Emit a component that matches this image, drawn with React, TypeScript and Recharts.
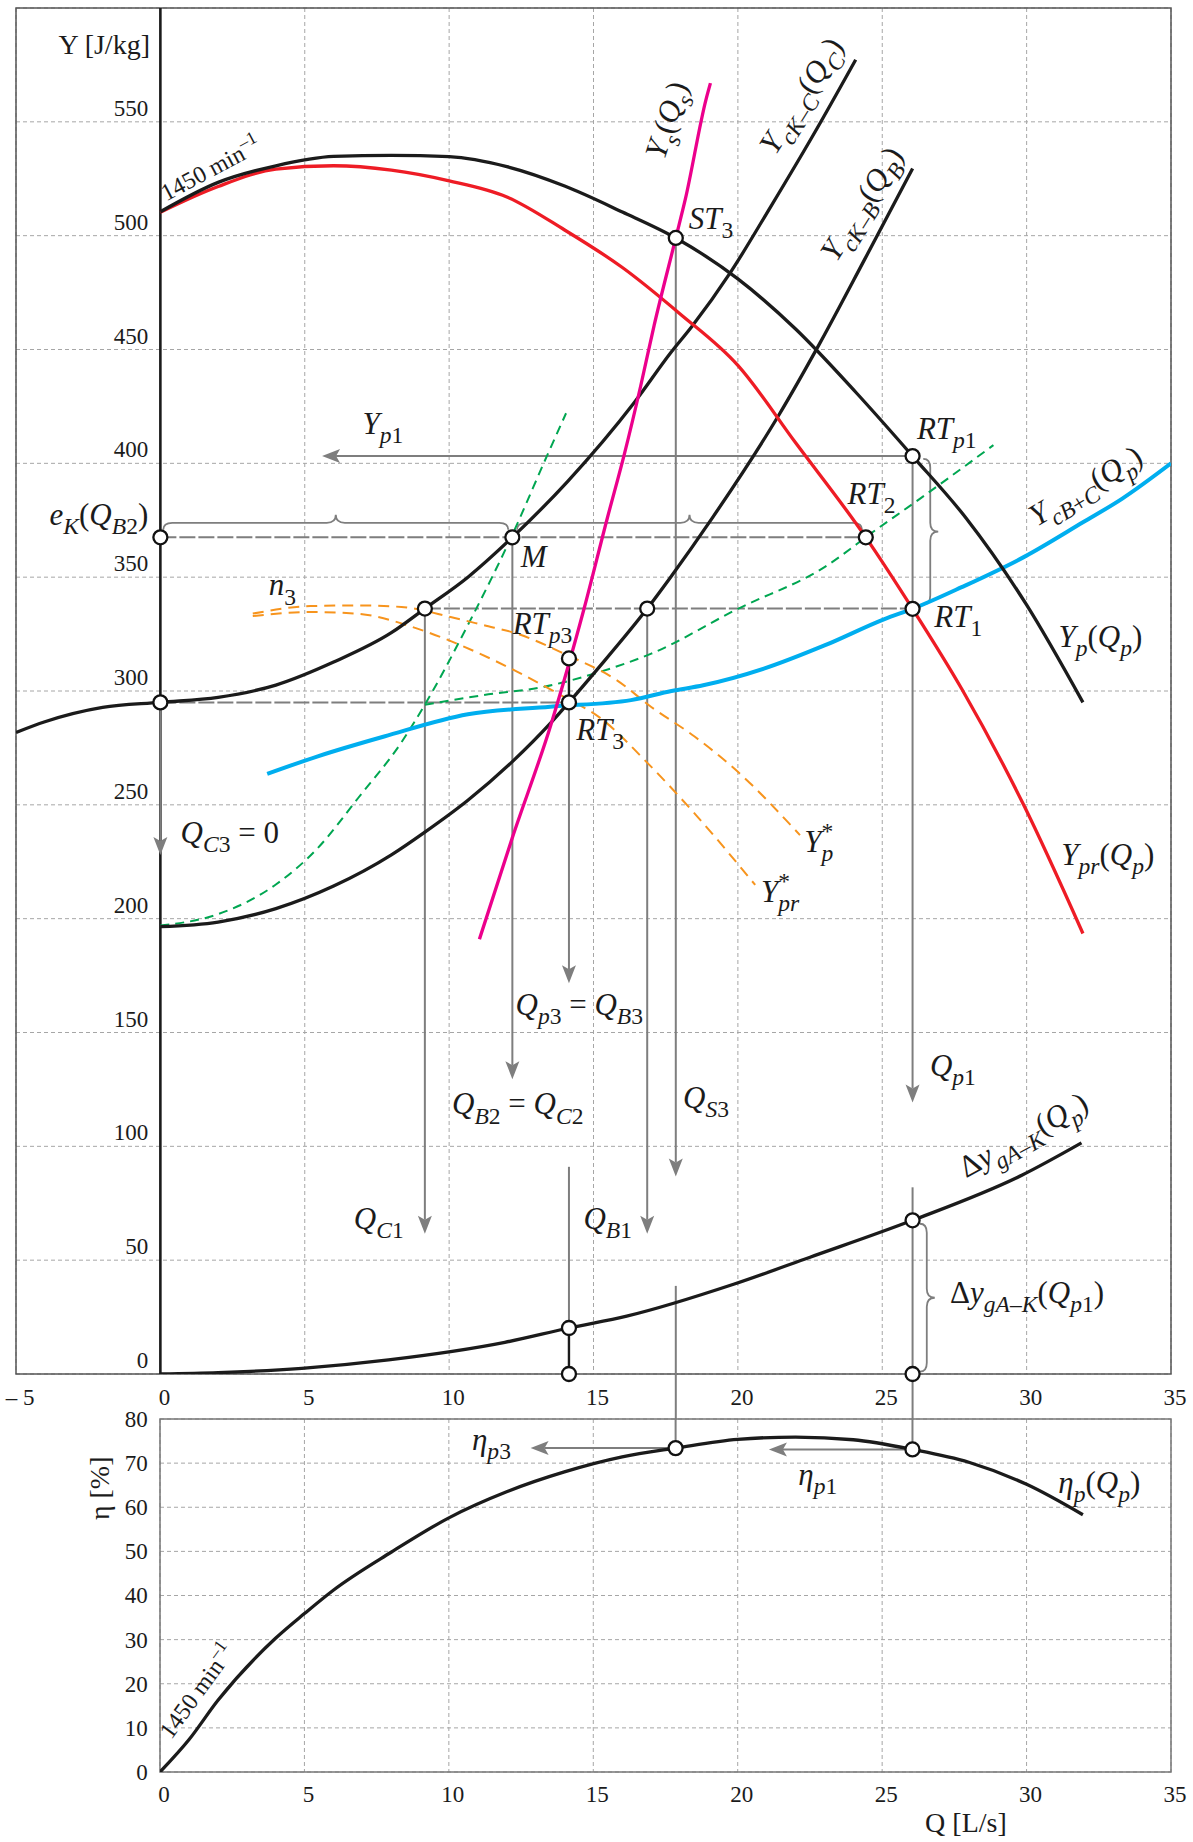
import React from "react";
import {
  LineChart,
  Line,
  XAxis,
  YAxis,
  CartesianGrid,
  ReferenceLine,
  ReferenceDot,
  ReferenceArea,
} from "recharts";

const FONT = '"Liberation Serif", "Times New Roman", serif';
const INK = "#1b1b1b";
const GRAY = "#7e7e7e";
const GRID = "#a6a6a6";

// ---- upper diagram: Q [L/s] against Y [J/kg] ----
const pumpQ = [0, 2, 4, 6, 8, 10, 12, 14, 16, 17.85, 20, 22, 24.1, 26.05, 27.9, 30, 31.95];
const pumpY = [510.5, 523.4, 530.7, 534.8, 535.3, 534.7, 530.3, 521.8, 510.4, 499, 481, 459, 431, 403.2, 376, 337.8, 295];

const reducedQ = [0, 2, 4, 6, 8, 10, 12, 14, 16, 18, 20, 22, 24.43, 26.05, 27.75, 29.9, 31.95];
const reducedY = [510.3, 521.6, 529.2, 530.7, 528.8, 524.1, 517, 502.5, 486, 465.6, 443, 409, 367.5, 336.1, 301, 249.9, 193.5];

const combinedQ = [3.7, 5.45, 7.75, 10.65, 13.5, 16.3, 17.7, 18.8, 20.9, 23, 25.1, 26.05, 27.75, 29.9, 31.95, 33.3, 35];
const combinedY = [263.6, 271.3, 280, 289.8, 293.1, 296, 300, 302.5, 309.8, 320, 331.7, 336.1, 345.6, 358.8, 374.1, 384.4, 400];

const sysCQ = [-5, -4, -2, 0, 2, 4, 6, 8, 9.16, 10.65, 12.19, 14.1, 16.4, 17.7, 18.4, 19.75, 21.15, 22.6, 24.08];
const sysCY = [281.8, 286.5, 292.8, 295, 297.2, 302.6, 312.7, 325.6, 336.2, 350, 367.5, 392, 426.5, 449, 460, 484, 513, 544, 577.3];

const sysBQ = [0, 2, 4, 6, 8, 9.16, 10.65, 12.19, 13.52, 14.15, 15.13, 16.86, 17.67, 19.14, 21.41, 22.85, 24.4, 26.05];
const sysBY = [196.5, 198.5, 204.4, 214.3, 228, 238, 252, 269, 286, 295, 309.5, 336.2, 350, 376.5, 421, 453, 489.8, 529.5];

const sysSQ = [11.05, 12.19, 13.52, 14.67, 15.48, 16.06, 16.64, 17.1, 17.85, 18.18, 18.9, 19.05];
const sysSY = [191, 235.6, 285, 336, 376, 403.6, 434.3, 460.6, 499, 516, 560, 567];

const greenAQ = [0, 2, 4, 5.45, 6.85, 8.35, 9.16, 10.65, 12.13, 13.4, 14.05];
const greenAY = [197, 202, 215, 231, 253, 277.5, 294, 329, 367, 403.6, 422];

const greenBQ = [9.16, 11.2, 13.3, 15.25, 17, 20, 23, 24.75, 26.3, 28.85];
const greenBY = [294, 298.2, 301.9, 308.5, 316.4, 336.1, 354.4, 370.5, 384.4, 408];

const pumpN3Q = [3.2, 5.2, 6.85, 8.35, 10.05, 11.2, 12.35, 14.1, 15.8, 17, 18.5, 20, 22.15];
const pumpN3Y = [334, 337.3, 337.6, 336.9, 332.5, 328.9, 325.2, 315.7, 304.8, 293, 280, 264.5, 236.7];

const reducedN3Q = [3.2, 5.2, 6.85, 8.9, 10.4, 12.35, 13.85, 15.25, 16.9, 18.55, 20.6];
const reducedN3Y = [332.9, 334.7, 333.9, 327.4, 320.1, 308.5, 298.3, 288, 268, 245.5, 214.8];

const lossQ = [0, 2, 4.9, 7.9, 11.93, 14.15, 16.15, 19.85, 22.5, 26.05, 29.85, 31.9];
const lossY = [0, 0.6, 2.5, 6.2, 13.9, 20.2, 25.4, 39.4, 51.3, 67.5, 87.4, 101.5];

// ---- lower diagram: efficiency ----
const etaQ = [0, 1, 2, 4, 5, 6, 8, 10, 12, 14, 16, 17.85, 20, 22, 24, 26.05, 28, 30, 31.95];
const etaV = [0, 7.3, 16.2, 30.3, 35.9, 41.2, 49.8, 57.6, 63.5, 68, 71.4, 73.4, 75.4, 75.9, 75.3, 73.1, 70.2, 65.2, 58.3];

const qTicksTop = [-5, 0, 5, 10, 15, 20, 25, 30, 35];
const yTicksTop = [0, 50, 100, 150, 200, 250, 300, 350, 400, 450, 500, 550, 600];
const qTicksBottom = [0, 5, 10, 15, 20, 25, 30, 35];
const etaTicks = [0, 10, 20, 30, 40, 50, 60, 70, 80];

// operating points
const topPointsQ = [0, 0, 9.16, 12.19, 14.15, 14.15, 16.86, 17.85, 24.43, 26.05, 26.05, 14.15, 14.15, 26.05, 26.05];
const topPointsY = [367.5, 295, 336.2, 367.5, 295, 314.3, 336.2, 499, 367.5, 403.2, 336.1, 20.2, 0, 67.5, 0];
const etaPointsQ = [17.85, 26.05];
const etaPointsV = [73.4, 73.1];

// guide lines [q1, y1, q2, y2]; arrows point at the second end
const topArrows = [
  [0, 295, 0, 228],
  [9.16, 336.2, 9.16, 61.6],
  [12.19, 367.5, 12.19, 129.5],
  [14.15, 295, 14.15, 171.6],
  [16.86, 336.2, 16.86, 61.6],
  [17.85, 499, 17.85, 86.7],
  [26.05, 403.2, 26.05, 119.2],
  [26.05, 403.2, 5.6, 403.2],
];
const topGuides = [
  [14.15, 91, 14.15, 20.2],
  [26.05, 82, 26.05, -20],
  [17.85, 38.7, 17.85, -20],
];
const topDashed = [
  [0, 367.5, 24.43, 367.5],
  [0, 295, 14.15, 295],
  [9.16, 336.2, 26.05, 336.2],
];
const topBlackLinks = [
  [14.15, 20.2, 14.15, 0],
  [14.15, 295, 14.15, 314.3],
];
const topBraces = [
  [0.1, 370.8, 12.05, 370.8],
  [12.35, 370.8, 24.3, 370.8],
  [26.42, 402, 26.42, 338],
  [26.3, 66, 26.3, 1],
];
const etaArrows = [
  [17.85, 73.4, 12.83, 73.4],
  [26.05, 73.1, 21.08, 73.1],
];
const etaGuides = [
  [17.85, 80, 17.85, 73.4],
  [26.05, 80, 26.05, 73.1],
];

type Lbl = { q: number; y: number; t: string; fs?: number; angle?: number; anchor?: string; upright?: boolean };

const topLabels: Lbl[] = [
  { q: -0.36, y: 580, t: "Y [J/kg]", fs: 28, anchor: "end", upright: true },
  { q: 0.2, y: 515, t: "1450 min^{–1}", fs: 24, angle: -28, upright: true },
  { q: 17.45, y: 533, t: "Y_{s}(Q_{s})", angle: -72 },
  { q: 21.3, y: 535, t: "Y_{cK–C}(Q_{C})", angle: -58 },
  { q: 23.42, y: 488, t: "Y_{cK–B}(Q_{B})", angle: -58 },
  { q: 18.3, y: 503, t: "ST_{3}" },
  { q: 26.2, y: 410.8, t: "RT_{p1}" },
  { q: 23.8, y: 382.3, t: "RT_{2}" },
  { q: 30.35, y: 372, t: "Y_{cB+C}(Q_{p})", angle: -31 },
  { q: -0.42, y: 373, t: "e_{K}(Q_{B2})", anchor: "end" },
  { q: 12.48, y: 354.4, t: "M" },
  { q: 3.75, y: 342, t: "n_{3}" },
  { q: 12.2, y: 325.2, t: "RT_{p3}" },
  { q: 14.4, y: 278.6, t: "RT_{3}" },
  { q: 26.8, y: 328.1, t: "RT_{1}" },
  { q: 31.1, y: 319.3, t: "Y_{p}(Q_{p})" },
  { q: 31.2, y: 223.5, t: "Y_{pr}(Q_{p})" },
  { q: 22.3, y: 229.4, t: "Y^{*}_{p}" },
  { q: 20.8, y: 207.5, t: "Y^{*}_{pr}" },
  { q: 0.7, y: 233.4, t: "Q_{C3} = 0" },
  { q: 7.0, y: 413.1, t: "Y_{p1}" },
  { q: 12.3, y: 157.6, t: "Q_{p3} = Q_{B3}" },
  { q: 10.1, y: 114, t: "Q_{B2} = Q_{C2}" },
  { q: 18.1, y: 117, t: "Q_{S3}" },
  { q: 26.65, y: 131, t: "Q_{p1}" },
  { q: 6.7, y: 63.8, t: "Q_{C1}" },
  { q: 14.65, y: 63.8, t: "Q_{B1}" },
  { q: 27.9, y: 86, t: "Δy_{gA–K}(Q_{p})", angle: -29 },
  { q: 27.35, y: 31.3, t: "Δy_{gA–K}(Q_{p1})" },
];

const etaLabels: Lbl[] = [
  { q: 0.39, y: 7.2, t: "1450 min^{–1}", fs: 24, angle: -54, upright: true },
  { q: 10.8, y: 73, t: "η_{p3}" },
  { q: 22.1, y: 65.1, t: "η_{p1}" },
  { q: 31.1, y: 63.2, t: "η_{p}(Q_{p})" },
  { q: 27.9, y: -13.7, t: "Q [L/s]", fs: 28, anchor: "middle", upright: true },
  { q: -1.78, y: 64.3, t: "η [%]", fs: 28, anchor: "middle", angle: -90, upright: true },
];

// tick numbers sit inside the frame, right-aligned against the Q = 0 line
const topTickLabels: Lbl[] = yTicksTop
  .filter((v) => v < 600)
  .map((v) => ({ q: -0.42, y: v + 2.6, t: String(v), fs: 23, anchor: "end", upright: true }));
const etaTickLabels: Lbl[] = etaTicks.map((v) => ({
  q: -0.42,
  y: v - 1.8,
  t: String(v),
  fs: 23,
  anchor: "end",
  upright: true,
}));

const zip = (qs: number[], ys: number[]) => qs.map((q, i) => ({ q, y: ys[i] }));

const topCurves = [
  { id: "greenA", pts: zip(greenAQ, greenAY), color: "#00a651", w: 2, dash: "9 6" },
  { id: "greenB", pts: zip(greenBQ, greenBY), color: "#00a651", w: 2, dash: "9 6" },
  { id: "pumpN3", pts: zip(pumpN3Q, pumpN3Y), color: "#f7941d", w: 2, dash: "11 7" },
  { id: "reducedN3", pts: zip(reducedN3Q, reducedN3Y), color: "#f7941d", w: 2, dash: "11 7" },
  { id: "combined", pts: zip(combinedQ, combinedY), color: "#00aeef", w: 4 },
  { id: "sysC", pts: zip(sysCQ, sysCY), color: INK, w: 3.3 },
  { id: "sysB", pts: zip(sysBQ, sysBY), color: INK, w: 3.3 },
  { id: "reduced", pts: zip(reducedQ, reducedY), color: "#ee1c25", w: 3.3 },
  { id: "pump", pts: zip(pumpQ, pumpY), color: INK, w: 3.3 },
  { id: "sysS", pts: zip(sysSQ, sysSY), color: "#ec008c", w: 3.3 },
  { id: "loss", pts: zip(lossQ, lossY), color: INK, w: 3.3 },
];

// text with _{sub} and ^{sup} parts; letters italic unless upright
function mathSpans(src: string, fs: number, upright: boolean) {
  const runs: { t: string; lvl: number }[] = [];
  let buf = "";
  for (let i = 0; i < src.length; i++) {
    const c = src[i];
    if ((c === "_" || c === "^") && src[i + 1] === "{") {
      if (buf) runs.push({ t: buf, lvl: 0 });
      buf = "";
      const end = src.indexOf("}", i);
      runs.push({ t: src.slice(i + 2, end), lvl: c === "_" ? 1 : -1 });
      i = end;
    } else buf += c;
  }
  if (buf) runs.push({ t: buf, lvl: 0 });
  const out: React.ReactNode[] = [];
  let base = 0;
  runs.forEach((r, k) => {
    const size = r.lvl === 0 ? fs : fs * 0.76;
    const off = r.lvl === 1 ? fs * 0.3 : r.lvl === -1 ? -fs * 0.42 : 0;
    const prev = runs[k - 1];
    const stackDx = r.lvl === 1 && prev && prev.lvl === -1 ? -size * 0.5 * prev.t.length : 0;
    const chunks = r.t.match(/[A-Za-zη]+|[^A-Za-zη]+/g) || [];
    chunks.forEach((ch, j) => {
      const italic = !upright && /[A-Za-zη]/.test(ch);
      out.push(
        <tspan
          key={`${k}-${j}`}
          dy={j === 0 && off !== base ? off - base : undefined}
          dx={j === 0 && stackDx ? stackDx : undefined}
          fontSize={size}
          fontStyle={italic ? "italic" : "normal"}
        >
          {ch}
        </tspan>
      );
    });
    base = off;
  });
  return out;
}

const MathText = ({ x, y, l }: { x: number; y: number; l: Lbl }) => {
  const fs = l.fs ?? 31;
  return (
    <text
      x={x}
      y={y}
      fontSize={fs}
      fontFamily={FONT}
      fill={INK}
      textAnchor={(l.anchor as any) ?? "start"}
      transform={l.angle ? `rotate(${l.angle} ${x} ${y})` : undefined}
      style={{ whiteSpace: "pre" }}
    >
      {mathSpans(l.t, fs, !!l.upright)}
    </text>
  );
};

const arrowShape = (p: any) => {
  const { x1, y1, x2, y2 } = p;
  const len = Math.hypot(x2 - x1, y2 - y1) || 1;
  const ux = (x2 - x1) / len;
  const uy = (y2 - y1) / len;
  const nx = -uy;
  const ny = ux;
  const L = 18;
  const W = 7;
  const N = 4;
  const bx = x2 - ux * L;
  const by = y2 - uy * L;
  const mx = x2 - ux * (L - N);
  const my = y2 - uy * (L - N);
  return (
    <g>
      <line x1={x1} y1={y1} x2={mx} y2={my} stroke={GRAY} strokeWidth={2} />
      <polygon
        points={`${x2},${y2} ${bx + nx * W},${by + ny * W} ${mx},${my} ${bx - nx * W},${by - ny * W}`}
        fill={GRAY}
      />
    </g>
  );
};

// curly brace between the two ends, tip on the left-hand normal side
const braceShape = (p: any) => {
  const { x1, y1, x2, y2 } = p;
  const len = Math.hypot(x2 - x1, y2 - y1) || 1;
  const tx = (x2 - x1) / len;
  const ty = (y2 - y1) / len;
  const nx = ty;
  const ny = -tx;
  const h = 7;
  const c = 8;
  const r = 9;
  const P = (u: number, v: number) => `${x1 + tx * u + nx * v},${y1 + ty * u + ny * v}`;
  const m = len / 2;
  const d = `M${P(0, 0)} Q${P(0, h)} ${P(r, h)} L${P(m - r, h)} Q${P(m, h)} ${P(m, h + c)} Q${P(m, h)} ${P(m + r, h)} L${P(len - r, h)} Q${P(len, h)} ${P(len, 0)}`;
  return <path d={d} fill="none" stroke={GRAY} strokeWidth={1.8} />;
};

const seg = (s: number[], key: string, props: any) => (
  <ReferenceLine
    key={key}
    segment={[
      { x: s[0], y: s[1] },
      { x: s[2], y: s[3] },
    ]}
    ifOverflow="visible"
    {...props}
  />
);

const labelDot = (l: Lbl, key: string) => (
  <ReferenceDot
    key={key}
    x={l.q}
    y={l.y}
    r={0}
    ifOverflow="visible"
    shape={(p: any) => <MathText x={p.cx} y={p.cy} l={l} />}
  />
);

const marker = (q: number, y: number, key: string) => (
  <ReferenceDot key={key} x={q} y={y} r={7} fill="#fff" stroke="#111" strokeWidth={2.3} ifOverflow="visible" />
);

const TopXTick = (p: any) => (
  <text x={p.x + 4} y={1405} textAnchor="middle" fontSize={23} fontFamily={FONT} fill={INK}>
    {p.payload.value < 0 ? "– 5" : p.payload.value}
  </text>
);

const BottomXTick = (p: any) => (
  <text x={p.x + 4} y={422} textAnchor="middle" fontSize={23} fontFamily={FONT} fill={INK}>
    {p.payload.value}
  </text>
);

// y tick numbers are drawn as labels inside the frame; the axis only feeds the grid
const NoTick = () => <g />;

export default function App() {
  return (
    <div style={{ position: "absolute", left: 0, top: 0, width: 1193, height: 1842, background: "#fff" }}>
      <div style={{ position: "absolute", left: 0, top: 0 }}>
        <LineChart width={1193} height={1440} margin={{ top: 8, right: 22, bottom: 36, left: 16 }}>
          <CartesianGrid stroke={GRID} strokeDasharray="4 3" strokeWidth={1} />
          <XAxis
            type="number"
            dataKey="q"
            domain={[-5, 35]}
            ticks={qTicksTop}
            allowDataOverflow
            interval={0}
            height={30}
            axisLine={false}
            tickLine={false}
            tick={TopXTick}
          />
          <YAxis
            type="number"
            domain={[0, 600]}
            ticks={yTicksTop}
            allowDataOverflow
            interval={0}
            width={0}
            tick={NoTick}
            axisLine={false}
            tickLine={false}
          />
          <ReferenceArea x1={-5} x2={35} y1={0} y2={600} fill="none" fillOpacity={0} stroke="#555" strokeWidth={1.5} />
          <ReferenceLine x={0} stroke={INK} strokeWidth={2.6} />

          {topDashed.map((s, i) => seg(s, `d${i}`, { stroke: GRAY, strokeWidth: 2, strokeDasharray: "16 3" }))}
          {topGuides.map((s, i) => seg(s, `g${i}`, { stroke: GRAY, strokeWidth: 2 }))}
          {topArrows.map((s, i) => seg(s, `a${i}`, { shape: arrowShape }))}
          {topBraces.map((s, i) => seg(s, `b${i}`, { shape: braceShape }))}
          {topBlackLinks.map((s, i) => seg(s, `k${i}`, { stroke: INK, strokeWidth: 2.4 }))}

          {topCurves.map((c) => (
            <Line
              key={c.id}
              data={c.pts}
              dataKey="y"
              type="monotone"
              stroke={c.color}
              strokeWidth={c.w}
              strokeDasharray={c.dash}
              dot={false}
              activeDot={false}
              isAnimationActive={false}
            />
          ))}

          {topPointsQ.map((q, i) => marker(q, topPointsY[i], `m${i}`))}
          {topTickLabels.map((l, i) => labelDot(l, `yt${i}`))}
          {topLabels.map((l, i) => labelDot(l, `t${i}`))}
        </LineChart>
      </div>

      <div style={{ position: "absolute", left: 0, top: 1380 }}>
        <LineChart width={1193} height={462} margin={{ top: 39, right: 22, bottom: 40, left: 160 }}>
          <CartesianGrid stroke={GRID} strokeDasharray="4 3" strokeWidth={1} />
          <XAxis
            type="number"
            dataKey="q"
            domain={[0, 35]}
            ticks={qTicksBottom}
            allowDataOverflow
            interval={0}
            height={30}
            axisLine={false}
            tickLine={false}
            tick={BottomXTick}
          />
          <YAxis
            type="number"
            domain={[0, 80]}
            ticks={etaTicks}
            allowDataOverflow
            interval={0}
            width={0}
            tick={NoTick}
            axisLine={false}
            tickLine={false}
          />
          <ReferenceArea x1={0} x2={35} y1={0} y2={80} fill="none" fillOpacity={0} stroke="#777" strokeWidth={1.5} />
          {etaGuides.map((s, i) => seg(s, `eg${i}`, { stroke: GRAY, strokeWidth: 2 }))}
          {etaArrows.map((s, i) => seg(s, `ea${i}`, { shape: arrowShape }))}
          <Line
            data={zip(etaQ, etaV)}
            dataKey="y"
            type="monotone"
            stroke={INK}
            strokeWidth={3.3}
            dot={false}
            activeDot={false}
            isAnimationActive={false}
          />
          {etaPointsQ.map((q, i) => marker(q, etaPointsV[i], `em${i}`))}
          {etaTickLabels.map((l, i) => labelDot(l, `et${i}`))}
          {etaLabels.map((l, i) => labelDot(l, `el${i}`))}
        </LineChart>
      </div>
    </div>
  );
}
